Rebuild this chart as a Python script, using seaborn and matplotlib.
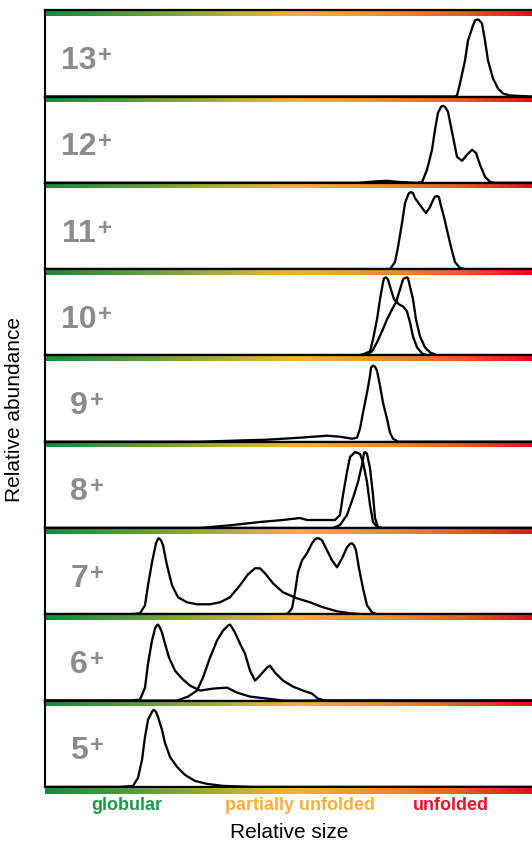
import numpy as np
import matplotlib
matplotlib.use("Agg")
import matplotlib.pyplot as plt
import seaborn as sns
from matplotlib.colors import LinearSegmentedColormap

# ---------------- data (relative size in arbitrary units 0-487, abundance in arbitrary units) -------------
charge_labels = ["13", "12", "11", "10", "9", "8", "7", "6", "5"]

size_13 = [0, 410, 412, 415, 420, 423, 428, 430, 432, 434, 437, 440, 443, 448, 453, 458, 465, 487]
abund_13 = [0, 0, 1, 13, 36, 56, 71, 76, 77, 76.5, 73, 56, 36, 18, 8, 3, 1, 0]

size_12 = [0, 313, 332, 342, 352, 370, 377, 382, 387, 390, 393, 396, 398, 400, 403, 408, 412, 417, 422, 427,
           431, 435, 440, 445, 450, 487]
abund_12 = [0, 0, 1.5, 2, 1, 0, 0.5, 13, 33, 53, 70, 76, 77, 76, 71, 46, 26, 22, 28, 33,
            30, 18, 6, 1, 0, 0]

size_11 = [0, 345, 350, 353, 357, 360, 363, 364, 366, 368, 370, 375, 381, 385, 388, 390, 392, 394, 395, 399,
           402, 406, 410, 415, 420, 487]
abund_11 = [0, 0, 7, 22, 46, 66, 74, 76, 77, 76, 71, 64, 56, 62, 69, 72.5, 73, 72, 67, 52,
            39, 22, 7, 1, 0, 0]

size_10a = [0, 313, 318, 325, 328, 332, 335, 338, 339, 341, 343, 345, 349, 354, 358, 362, 365, 368, 372, 377, 382, 487]
abund_10a = [0, 0, 1, 4, 16, 36, 56, 73, 77, 78, 76, 69, 56, 51, 49, 44, 33, 19, 8, 2, 0, 0]
size_10b = [0, 320, 327, 332, 337, 342, 347, 351, 355, 358, 360, 362, 363, 364, 368, 371, 375, 380, 385, 392, 487]
abund_10b = [0, 0, 4, 13, 24, 36, 46, 53, 66, 76, 77.5, 78, 77, 73, 56, 36, 19, 8, 3, 0, 0]

size_9 = [0, 155, 188, 222, 255, 282, 295, 307, 312, 315, 318, 322, 325, 326, 328, 330, 332, 335, 338, 342,
          345, 348, 353, 487]
abund_9 = [0, 0, 1, 2, 4, 6, 5, 3, 4, 13, 29, 49, 66, 74, 76, 75, 71, 56, 39, 23,
           9, 3, 0, 0]

size_8a = [0, 155, 188, 215, 238, 255, 262, 272, 282, 290, 295, 298, 302, 305, 310, 315, 318, 322, 325, 328, 333, 487]
abund_8a = [0, 0, 3, 6, 8, 10, 8, 8, 8, 8, 13, 33, 56, 71, 76, 74, 66, 46, 23, 6, 0, 0]
size_8b = [0, 288, 295, 302, 308, 313, 317, 319, 320, 321, 322, 325, 328, 330, 333, 338, 487]
abund_8b = [0, 0, 3, 13, 30, 46, 63, 75, 76, 75.5, 74, 60, 33, 10, 1, 0, 0]

size_7a = [0, 85, 95, 100, 103, 107, 111, 113, 114, 116, 118, 122, 127, 133, 142, 152, 165, 175, 185, 195, 203, 210,
           215, 220, 228, 238, 252, 265, 278, 292, 305, 318, 487]
abund_7a = [0, 0, 1, 9, 29, 52, 71, 75.5, 76, 74, 69, 49, 29, 17, 12, 10, 10, 12, 17, 29, 40, 46,
            46, 41, 31, 22, 16, 12, 7, 3, 1, 0, 0]
size_7b = [0, 242, 247, 250, 253, 257, 262, 267, 270, 272, 274, 277, 282, 287, 292, 297, 302, 305, 307, 309,
           311, 314, 318, 322, 327, 332, 487]
abund_7b = [0, 0, 6, 22, 42, 54, 61, 71, 75, 76, 76, 74, 64, 54, 47, 56, 67, 70.5, 71, 69,
            64, 46, 26, 9, 2, 0, 0]

size_6a = [0, 85, 95, 100, 103, 107, 110, 112, 113, 115, 117, 120, 124, 130, 137, 145, 155, 168, 182, 192, 205, 222, 238, 487]
abund_6a = [0, 0, 1, 13, 37, 60, 72, 75.5, 76, 73, 68, 57, 43, 30, 22, 15, 10, 12, 13, 8, 4, 2, 0, 0]
size_6b = [0, 132, 143, 152, 158, 165, 172, 178, 183, 185, 187, 190, 195, 200, 205, 210, 215, 222, 225, 230,
           238, 248, 258, 267, 273, 280, 487]
abund_6b = [0, 0, 4, 10, 23, 43, 60, 70, 75, 76, 73, 68, 57, 47, 30, 20, 25, 33, 35, 28,
            20, 14, 10, 7, 2, 0, 0]

size_5 = [0, 75, 88, 93, 97, 100, 103, 107, 108, 109, 111, 113, 117, 120, 125, 132, 140, 150, 162, 178, 208, 487]
abund_5 = [0, 0, 1, 9, 27, 50, 67, 75, 76.5, 77, 75, 70, 57, 44, 30, 20, 12, 6, 3, 1, 0, 0]

traces = {
    "13": [(size_13, abund_13)],
    "12": [(size_12, abund_12)],
    "11": [(size_11, abund_11)],
    "10": [(size_10a, abund_10a), (size_10b, abund_10b)],
    "9": [(size_9, abund_9)],
    "8": [(size_8a, abund_8a), (size_8b, abund_8b)],
    "7": [(size_7a, abund_7a), (size_7b, abund_7b)],
    "6": [(size_6a, abund_6a), (size_6b, abund_6b)],
    "5": [(size_5, abund_5)],
}

state_labels = ["globular", "partially unfolded", "unfolded"]
state_colors = ["#1c9a48", "#f9b041", "#e6142a"]

# ---------------- style ----------------
sns.set_style("white")
plt.rcParams["font.family"] = ["Liberation Sans", "DejaVu Sans"]

W, H = 532, 843
fig = plt.figure(figsize=(W / 100, H / 100), dpi=100)

cmap = LinearSegmentedColormap.from_list(
    "fold",
    [(0.0, "#128c3e"), (0.22, "#6a9e3b"), (0.4, "#bdb236"), (0.52, "#fbb034"),
     (0.72, "#f0882a"), (0.86, "#ea5a24"), (1.0, "#e3101f")])
grad = np.linspace(0, 1, 600)[None, :]

left, right = 45, 532
xmax = 487
base0, step = 96.5, 86.3
bar_h = 5.6
gray = "#8c8c8c"

for i, lab in enumerate(charge_labels):
    baseline = base0 + step * i
    ax = fig.add_axes([left / W, 1 - baseline / H, (right - left) / W, step / H])
    ax.imshow(grad, extent=[0, xmax, step - bar_h, step], aspect="auto", cmap=cmap,
              zorder=0, interpolation="bilinear")
    for xs, ys in traces[lab]:
        sns.lineplot(x=xs, y=ys, ax=ax, color="black", lw=1.65, estimator=None, sort=False,
                     solid_joinstyle="round")
    ax.set_xlim(0, xmax)
    ax.set_ylim(0, step)
    ax.set_xticks([])
    ax.set_yticks([])
    ax.set_xlabel("")
    ax.set_ylabel("")
    ax.spines["right"].set_visible(False)
    for s in ["top", "bottom"]:
        ax.spines[s].set_color("black")
        ax.spines[s].set_linewidth(1.6)
    ax.spines["left"].set_color("black")
    ax.spines["left"].set_linewidth(1.5)
    t = ax.text(34, 27.5, lab, ha="center", va="baseline", fontsize=23,
                fontweight="bold", color=gray)
    ax.annotate("+", xy=(1, 1), xycoords=t, xytext=(1.2, 1.5), textcoords="offset points",
                ha="left", va="top", fontsize=17, fontweight="bold", color=gray)

# bottom gradient strip
last_base = base0 + step * (len(charge_labels) - 1)
gax = fig.add_axes([left / W, 1 - (last_base + 7) / H, (right - left) / W, 6.2 / H])
gax.imshow(grad, extent=[0, xmax, 0, 1], aspect="auto", cmap=cmap, interpolation="bilinear")
gax.set_axis_off()

# category labels
for lab, col, xc in zip(state_labels, state_colors, [127, 300, 451]):
    fig.text(xc / W, 1 - 805 / H, lab, ha="center", va="center", fontsize=13,
             fontweight="bold", color=col)

fig.text(289 / W, 1 - 832 / H, "Relative size", ha="center", va="center", fontsize=15, color="black")
fig.text(15 / W, 1 - 410 / H, "Relative abundance", ha="center", va="center", fontsize=15,
         rotation=90, color="black")

fig.savefig("out.png", dpi=100)
